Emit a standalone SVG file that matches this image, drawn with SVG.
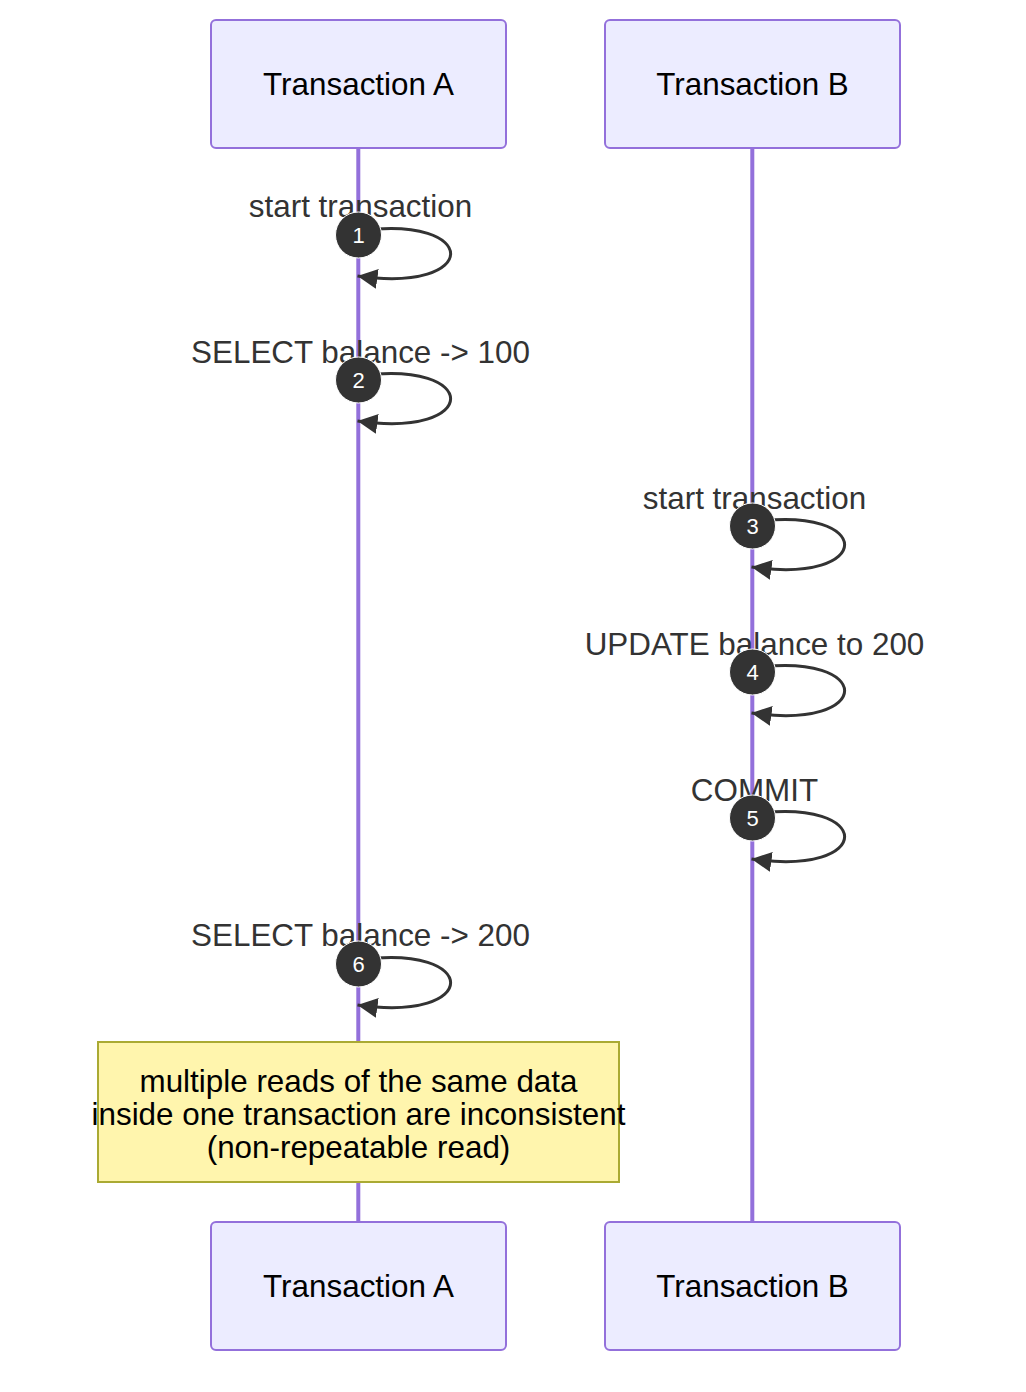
<svg xmlns="http://www.w3.org/2000/svg" width="1026" height="1392" viewBox="0 0 1026 1392">
<style>
.actor{fill:#ECECFF;stroke:#9370DB;stroke-width:2}
.atext{font-family:"Liberation Sans",Arial,sans-serif;font-size:31.4px;fill:#000;text-anchor:middle}
.life{stroke:#9370DB;stroke-width:4}
.msg{font-family:"Liberation Sans",Arial,sans-serif;font-size:31.4px;fill:#333;text-anchor:middle}
.loop{fill:none;stroke:#333;stroke-width:3;marker-end:url(#arrow)}
.num{fill:#333;stroke:#fff;stroke-width:1}
.ntext{font-family:"Liberation Sans",Arial,sans-serif;font-size:22px;fill:#fff;text-anchor:middle}
.note{fill:#fff5ad;stroke:#aaaa33;stroke-width:2}
.notetext{font-family:"Liberation Sans",Arial,sans-serif;font-size:31.4px;fill:#000;text-anchor:middle}
</style>
<defs>
<marker id="arrow" viewBox="0 0 10 10" refX="10" refY="5" markerWidth="20" markerHeight="20" markerUnits="userSpaceOnUse" orient="auto">
<path d="M 0 0 L 10 5 L 0 10 z" fill="#333"/>
</marker>
</defs>
<rect width="1026" height="1392" fill="#fff"/>
<g id="lifelines">
<line class="life" x1="358.3" y1="148" x2="358.3" y2="1222"/>
<line class="life" x1="752.3" y1="148" x2="752.3" y2="1222"/>
</g>
<g id="actorA-top"><rect class="actor" x="211" y="20" width="295" height="128" rx="5"/><text class="atext" x="358.5" y="95">Transaction A</text></g>
<g id="actorB-top"><rect class="actor" x="605" y="20" width="295" height="128" rx="5"/><text class="atext" x="752.5" y="95">Transaction B</text></g>
<g id="actorA-bottom"><rect class="actor" x="211" y="1222" width="295" height="128" rx="5"/><text class="atext" x="358.5" y="1297">Transaction A</text></g>
<g id="actorB-bottom"><rect class="actor" x="605" y="1222" width="295" height="128" rx="5"/><text class="atext" x="752.5" y="1297">Transaction B</text></g>
<g id="connectors">
<text class="msg" x="360.5" y="217">start transaction</text>
<path class="loop" d="M 358.5,231 C 481.5,214 481.5,294 357.5,276"/>
<text class="msg" x="360.5" y="363">SELECT balance -&gt; 100</text>
<path class="loop" d="M 358.5,376 C 481.5,359 481.5,439 357.5,421"/>
<text class="msg" x="754.5" y="509">start transaction</text>
<path class="loop" d="M 752.5,522 C 875.5,505 875.5,585 751.5,567"/>
<text class="msg" x="754.5" y="655">UPDATE balance to 200</text>
<path class="loop" d="M 752.5,668 C 875.5,651 875.5,731 751.5,713"/>
<text class="msg" x="754.5" y="801">COMMIT</text>
<path class="loop" d="M 752.5,814 C 875.5,797 875.5,877 751.5,859"/>
<text class="msg" x="360.5" y="946">SELECT balance -&gt; 200</text>
<path class="loop" d="M 358.5,960 C 481.5,943 481.5,1023 357.5,1005"/>
</g>
<g id="seq1"><circle class="num" cx="358.5" cy="235" r="23"/><text class="ntext" x="358.5" y="243">1</text></g>
<g id="seq2"><circle class="num" cx="358.5" cy="380" r="23"/><text class="ntext" x="358.5" y="388">2</text></g>
<g id="seq3"><circle class="num" cx="752.5" cy="526" r="23"/><text class="ntext" x="752.5" y="534">3</text></g>
<g id="seq4"><circle class="num" cx="752.5" cy="672" r="23"/><text class="ntext" x="752.5" y="680">4</text></g>
<g id="seq5"><circle class="num" cx="752.5" cy="818" r="23"/><text class="ntext" x="752.5" y="826">5</text></g>
<g id="seq6"><circle class="num" cx="358.5" cy="964" r="23"/><text class="ntext" x="358.5" y="972">6</text></g>
<g id="note">
<rect class="note" x="98" y="1042" width="521" height="140"/>
<text class="notetext" x="358.5" y="1092">multiple reads of the same data</text>
<text class="notetext" x="358.5" y="1125">inside one transaction are inconsistent</text>
<text class="notetext" x="358.5" y="1158">(non-repeatable read)</text>
</g>
</svg>
